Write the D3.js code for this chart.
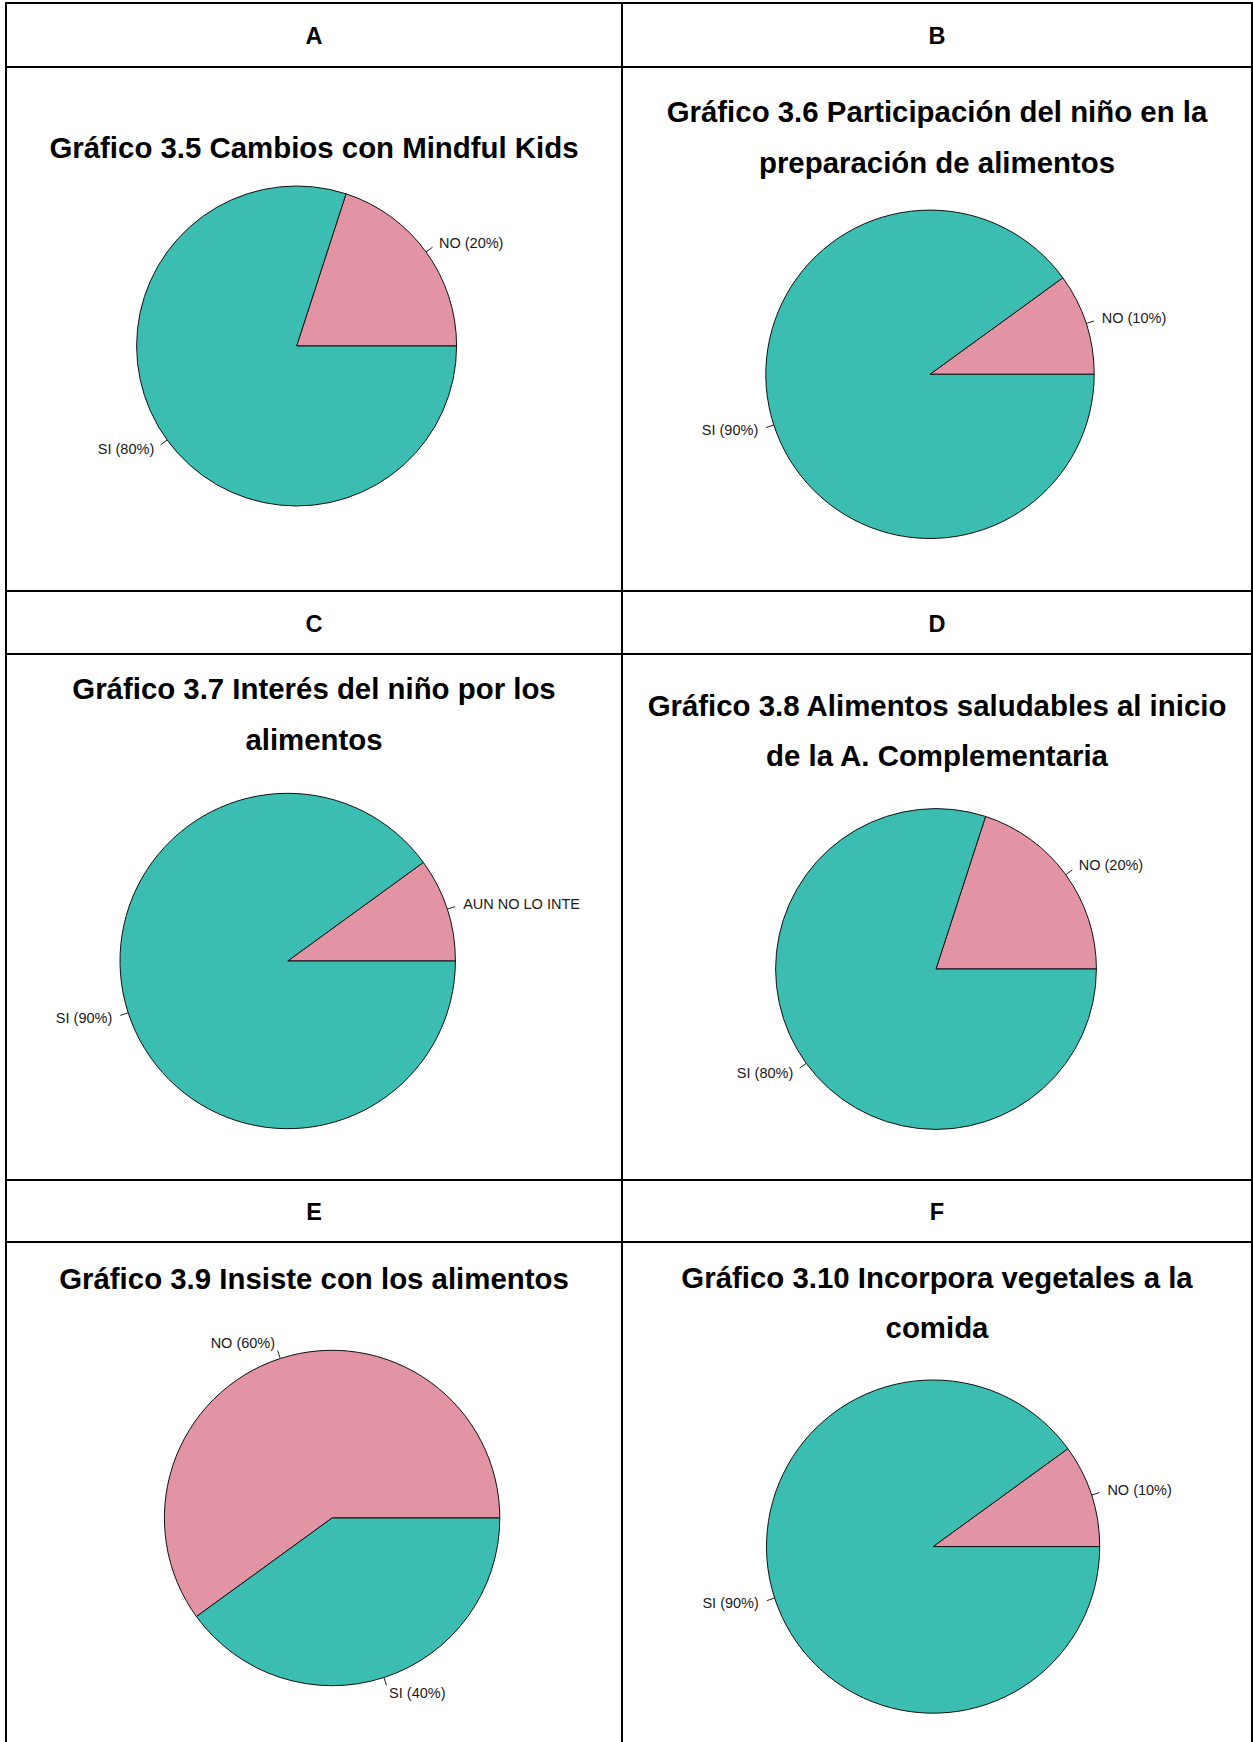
<!DOCTYPE html>
<html>
<head>
<meta charset="utf-8">
<script src="https://cdn.jsdelivr.net/npm/d3@7"></script>
<style>
  body { margin: 0; background: #fff; }
  svg { display: block; font-family: "Liberation Sans", Arial, sans-serif; }
</style>
</head>
<body>
<div id="chart"></div>
<script>
// panel data
const panelLetters = ["A", "B", "C", "D", "E", "F"];
const chartTitles = [
    ["Gráfico 3.5 Cambios con Mindful Kids"],
    ["Gráfico 3.6 Participación del niño en la", "preparación de alimentos"],
    ["Gráfico 3.7 Interés del niño por los", "alimentos"],
    ["Gráfico 3.8 Alimentos saludables al inicio", "de la A. Complementaria"],
    ["Gráfico 3.9 Insiste con los alimentos"],
    ["Gráfico 3.10 Incorpora vegetales a la", "comida"]
];
const sliceLabels = [
    ["NO (20%)", "SI (80%)"],
    ["NO (10%)", "SI (90%)"],
    ["AUN NO LO INTE", "SI (90%)"],
    ["NO (20%)", "SI (80%)"],
    ["NO (60%)", "SI (40%)"],
    ["NO (10%)", "SI (90%)"]
];
const sliceValues = [
    [20, 80],
    [10, 90],
    [10, 90],
    [20, 80],
    [60, 40],
    [10, 90]
];
const sliceColors = ["#e294a5", "#3bbeb1"];

const W = 1253, H = 1742;

// table grid
const colX = [6, 622, 1252];
const rowTop = [3, 591, 1180];
const rowHead = [67, 654, 1242];

// pie placement inside each cell (centre + radius)
const pieLayout = [
    { cx: 296.6, cy: 346, r: 160, titleY: [147] },
    { cx: 930, cy: 374.3, r: 164.2, titleY: [111, 162] },
    { cx: 287.7, cy: 961, r: 167.7, titleY: [688, 739] },
    { cx: 936, cy: 969, r: 160.4, titleY: [705, 755.5] },
    { cx: 332.1, cy: 1518, r: 167.7, titleY: [1278] },
    { cx: 933.1, cy: 1546.6, r: 166.6, titleY: [1277, 1327] }
];

const svg = d3.select("#chart")
    .append("svg")
    .attr("width", W)
    .attr("height", H);

svg.append("rect").attr("width", W).attr("height", H).attr("fill", "#fff");

const pie = d3.pie()
    .sort(null)
    .startAngle(Math.PI / 2)
    .endAngle(Math.PI / 2 - 2 * Math.PI);

panelLetters.forEach((letter, i) => {
    const col = i % 2, row = Math.floor(i / 2);
    const cx = (colX[col] + colX[col + 1]) / 2;
    const lay = pieLayout[i];

    // header letter
    svg.append("text")
        .attr("x", cx)
        .attr("y", (rowTop[row] + rowHead[row]) / 2 + 1)
        .attr("text-anchor", "middle")
        .attr("dominant-baseline", "central")
        .style("font-weight", "bold")
        .style("font-size", "23.5px")
        .text(letter);

    // title
    chartTitles[i].forEach((line, j) => {
        svg.append("text")
            .attr("x", cx)
            .attr("y", lay.titleY[j])
            .attr("text-anchor", "middle")
            .attr("dominant-baseline", "central")
            .style("font-weight", "bold")
            .style("font-size", "29.4px")
            .text(line);
    });

    const slices = pie(sliceValues[i])
        .map((s, k) => Object.assign(s, { label: sliceLabels[i][k], k }));

    const arc = d3.arc().innerRadius(0).outerRadius(lay.r);
    const g = svg.append("g").attr("transform", `translate(${lay.cx},${lay.cy})`);

    g.selectAll("path.slice")
        .data(slices)
        .enter()
        .append("path")
        .attr("class", "slice")
        .attr("d", arc)
        .attr("fill", d => sliceColors[d.k])
        .attr("stroke", "#111")
        .attr("stroke-width", 1);

    slices.forEach(d => {
        const a = (d.startAngle + d.endAngle) / 2;
        const sx = Math.sin(a), sy = -Math.cos(a);
        g.append("line")
            .attr("x1", sx * lay.r).attr("y1", sy * lay.r)
            .attr("x2", sx * lay.r * 1.05).attr("y2", sy * lay.r * 1.05)
            .attr("stroke", "#222")
            .attr("stroke-width", 1);
        g.append("text")
            .attr("x", sx * lay.r * 1.1)
            .attr("y", sy * lay.r * 1.1)
            .attr("text-anchor", sx > 0 ? "start" : "end")
            .attr("dominant-baseline", "central")
            .style("font-size", "14.5px")
            .style("fill", "#1a1a1a")
            .text(d.label);
    });
});

// table lines
const grid = svg.append("g").attr("stroke", "#000").attr("stroke-width", 2);
colX.forEach(x => grid.append("line").attr("x1", x).attr("x2", x).attr("y1", 2).attr("y2", H));
rowTop.concat(rowHead).forEach(y => grid.append("line").attr("x1", 5).attr("x2", 1253).attr("y1", y).attr("y2", y));
</script>
</body>
</html>
